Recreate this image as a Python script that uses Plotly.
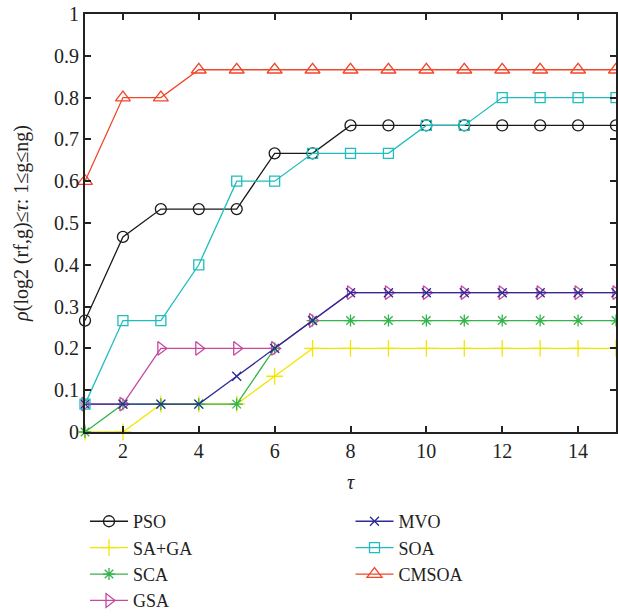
import plotly.graph_objects as go

tau = list(range(1, 16))
names = ["PSO", "SA+GA", "SCA", "GSA", "MVO", "SOA", "CMSOA"]
pso   = [4/15, 7/15, 8/15, 8/15, 8/15, 10/15, 10/15] + [11/15]*8
saga  = [0, 0, 1/15, 1/15, 1/15, 2/15] + [3/15]*9
sca   = [0, 1/15, 1/15, 1/15, 1/15, 3/15] + [4/15]*9
gsa   = [1/15, 1/15, 3/15, 3/15, 3/15, 3/15, 4/15] + [5/15]*8
mvo   = [1/15, 1/15, 1/15, 1/15, 2/15, 3/15, 4/15] + [5/15]*8
soa   = [1/15, 4/15, 4/15, 6/15, 9/15, 9/15, 10/15, 10/15, 10/15, 11/15, 11/15] + [12/15]*4
cmsoa = [9/15, 12/15, 12/15] + [13/15]*12
series = [pso, saga, sca, gsa, mvo, soa, cmsoa]
colors = ["#1a1a1a", "#f2e600", "#33b44a", "#c6489f", "#2e2a96", "#1fbdbd", "#f2462a"]
symbols = ["circle-open", "cross-thin-open", "asterisk-open", "triangle-right-open",
           "x-thin-open", "square-open", "triangle-up-open"]
legends = ["legend", "legend", "legend", "legend", "legend2", "legend2", "legend2"]
sizes = [11, 12, 10, 12, 9, 10, 13]

fig = go.Figure()
for n, s, c, sym, lg, sz in zip(names, series, colors, symbols, legends, sizes):
    fig.add_trace(go.Scatter(
        x=tau, y=s, name=n, mode="lines+markers",
        line=dict(color=c, width=1.3),
        marker=dict(symbol=sym, size=sz, color=c, line=dict(color=c, width=1.3)),
        legend=lg, legendgroup=n, cliponaxis=False))

font = "Liberation Serif"
axis_common = dict(showline=True, linecolor="#222", linewidth=2, mirror="ticks",
                   ticks="inside", ticklen=6, tickwidth=1.5, tickcolor="#222",
                   showgrid=False, zeroline=False,
                   tickfont=dict(family=font, size=20, color="#222"))
fig.update_layout(
    width=618, height=616,
    margin=dict(l=85, r=2, t=14, b=184, autoexpand=False),
    plot_bgcolor="white", paper_bgcolor="white",
    xaxis=dict(range=[1, 15], tickvals=[2, 4, 6, 8, 10, 12, 14],
               title=dict(text="<i>τ</i>", font=dict(family=font, size=20, color="#222"), standoff=14),
               **axis_common),
    yaxis=dict(range=[0, 1], tickvals=[i/10 for i in range(11)],
               ticktext=["0", "0.1", "0.2", "0.3", "0.4", "0.5", "0.6", "0.7", "0.8", "0.9", "1"],
               title=dict(text="<i>ρ</i>(log2 (rf,g)≤<i>τ</i>: 1≤g≤ng)",
                          font=dict(family=font, size=20, color="#222"), standoff=20),
               **axis_common),
    legend=dict(x=0.0, y=-0.17, xanchor="left", yanchor="top", tracegroupgap=0, itemwidth=38,
                font=dict(family=font, size=18, color="#222"), bgcolor="rgba(0,0,0,0)"),
    legend2=dict(x=0.5, y=-0.17, xanchor="left", yanchor="top", tracegroupgap=0, itemwidth=38,
                 font=dict(family=font, size=18, color="#222"), bgcolor="rgba(0,0,0,0)"),
    showlegend=True,
)
fig.write_html("out.html")
